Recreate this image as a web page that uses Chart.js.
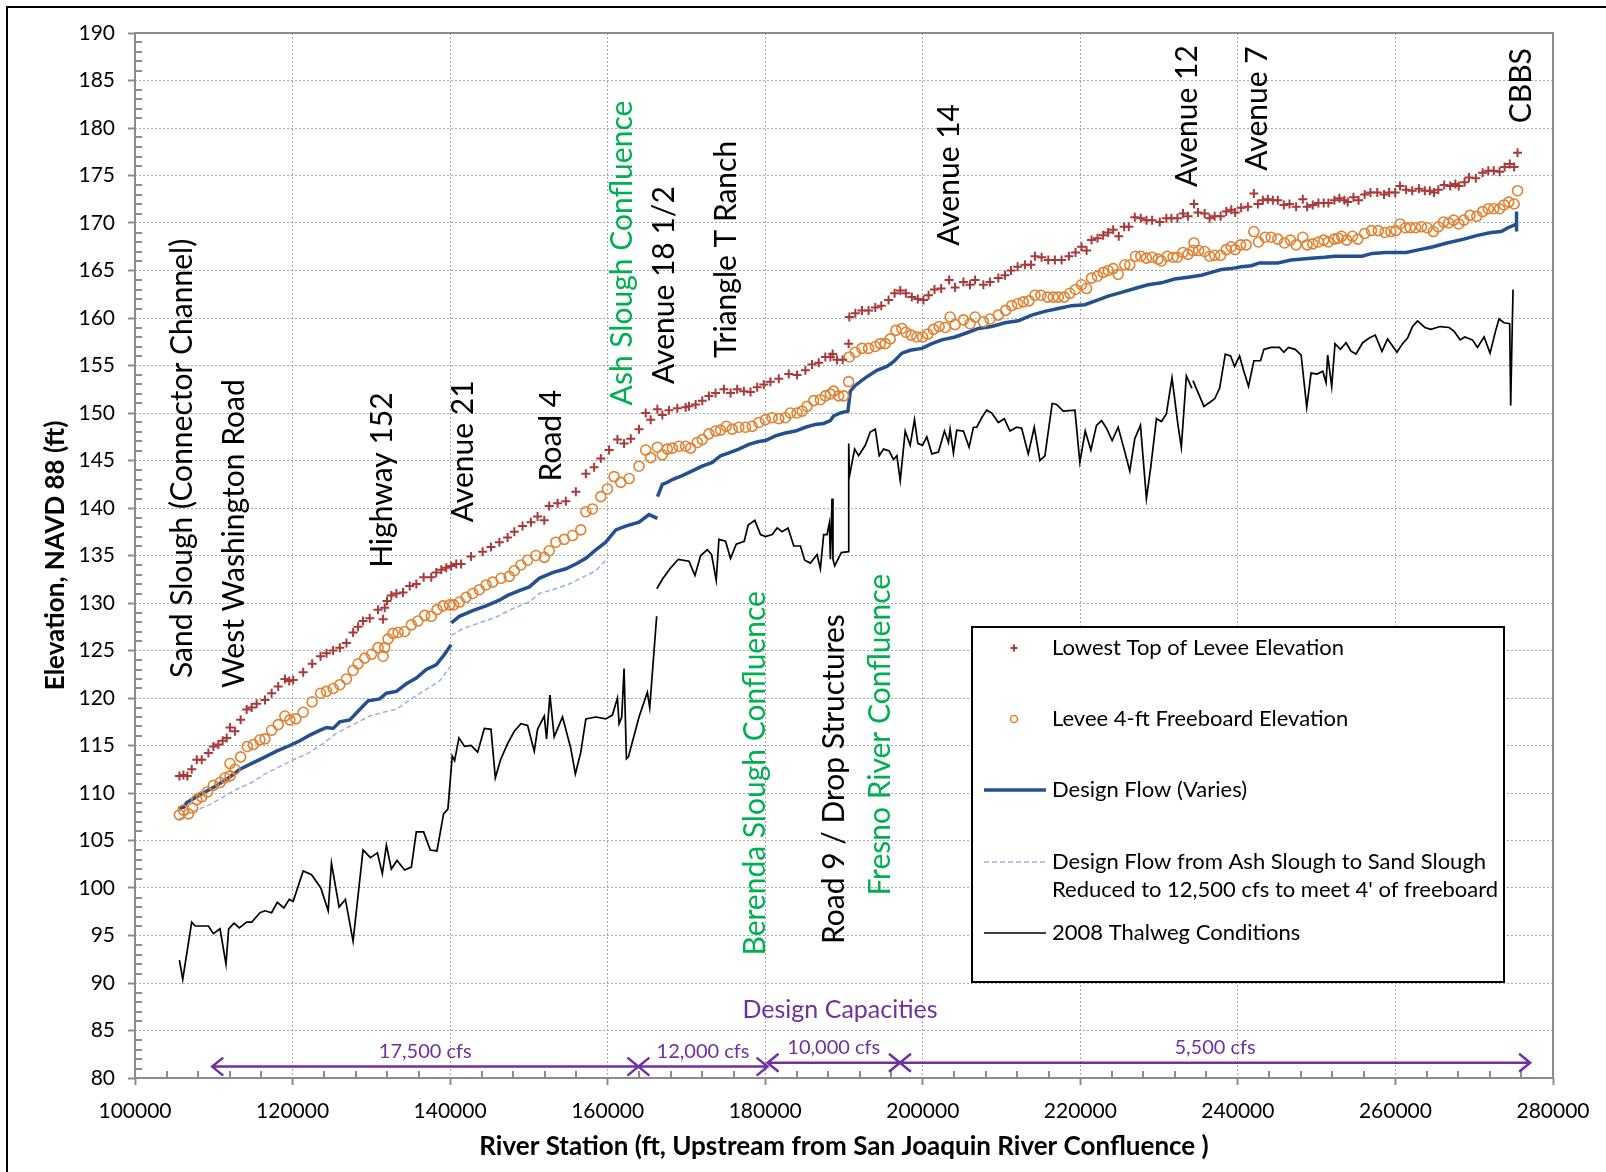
<!DOCTYPE html>
<html><head><meta charset="utf-8">
<script src="https://cdn.jsdelivr.net/npm/chart.js@4.4.0/dist/chart.umd.min.js"></script>
<style>html,body{margin:0;padding:0;background:#fff}#wrap{position:relative;width:1606px;height:1172px}</style>
</head><body><div id="wrap"><canvas id="c"></canvas></div>
<script>
// ---------- DATA ----------
const xTickValues = [100000,120000,140000,160000,180000,200000,220000,240000,260000,280000];
const yTickValues = [80,85,90,95,100,105,110,115,120,125,130,135,140,145,150,155,160,165,170,175,180,185,190];

const seriesNames = ['Lowest Top of Levee Elevation','Levee 4-ft Freeboard Elevation','Design Flow (Varies)','Design Flow from Ash Slough to Sand Slough\nReduced to 12,500 cfs to meet 4\' of freeboard','2008 Thalweg Conditions'];

const levStation = [105640,106150,106650,107200,107840,108470,109320,109950,110580,111130,111640,112060,112690,113410,114170,114810,115440,116500,117340,118180,119030,119580,120080,121350,122490,123550,124310,125150,126000,126840,127690,128320,128950,129800,130850,131490,131700,131990,132540,133180,134020,134870,135710,136640,137610,138240,138880,139510,140140,140780,141390,142660,144130,145190,146250,147300,148150,149200,150260,151100,151950,152580,153640,154690,155960,157230,158280,159130,160180,161240,162080,162930,163980,164830,165460,166310,166940,167780,168840,169900,170320,171160,172010,172850,173700,174750,175600,176440,177290,178130,178980,179820,180660,181720,182990,184040,185100,185940,186790,187630,188270,188560,189110,189830,190590,190680,191440,192280,193120,193970,194730,195660,196420,197140,197850,198610,199370,200090,200730,201490,202330,203340,204100,205160,206000,206640,207690,208540,209590,210440,211200,212040,212970,213730,214240,215080,215930,216770,217620,218550,219390,220150,220790,221420,222180,222900,223530,224170,224880,225560,226150,226910,227670,228390,229110,230080,230920,231560,232320,233030,233670,234430,234930,235780,236410,237050,237810,238520,239160,239660,240420,241270,242030,242540,243170,243800,244440,245070,245830,246550,247390,248240,248790,249500,250220,250900,251490,252250,252880,253520,253940,254670,255320,256090,256830,257690,258550,259200,259970,260580,261350,262130,262990,263730,264370,264890,265450,266190,266960,267610,268040,268770,269330,270200,271060,271790,272480,273220,273860,274510,275070,275500];
const levElev = [111.8,111.9,111.8,112.5,113.5,113.5,114.2,114.9,115.1,115.5,115.8,116.9,116.5,117.7,118.8,119.0,119.4,119.8,120.5,121.2,122.0,121.8,121.9,122.7,123.6,124.4,124.7,125.0,125.3,125.8,126.9,127.5,128.1,128.4,129.3,128.3,129.5,130.2,130.8,131.0,131.1,131.8,132.0,132.7,132.7,133.2,133.5,133.7,133.9,134.1,134.1,134.9,135.4,135.9,136.4,136.9,137.5,138.1,138.5,139.1,138.7,140.2,140.5,140.7,141.7,143.6,144.3,145.2,146.1,147.2,146.8,147.3,148.3,150.0,149.3,150.4,149.8,150.3,150.5,150.6,150.7,150.9,151.3,151.8,152.1,152.5,152.1,152.5,152.3,152.2,152.7,153.0,153.3,153.6,154.1,154.0,154.5,155.1,155.3,155.9,155.9,156.2,155.6,155.6,157.3,160.1,160.5,160.8,160.8,161.1,161.3,161.9,162.6,162.9,162.6,162.2,162.0,161.9,162.4,163.0,163.1,164.0,163.2,163.8,163.5,164.0,163.5,163.8,164.2,164.5,165.0,165.4,165.6,165.6,166.5,166.4,166.1,166.1,166.1,166.5,166.9,167.5,167.1,168.2,168.4,168.7,169.0,169.3,168.6,169.6,169.6,170.6,170.5,170.3,170.3,170.1,170.5,170.5,170.5,171.0,170.7,172.0,171.1,171.0,170.5,170.7,170.7,171.2,171.4,171.1,171.6,171.7,173.1,172.0,172.4,172.5,172.4,172.4,171.9,172.0,171.7,172.5,171.7,171.9,172.1,172.1,172.1,172.4,172.6,172.4,172.2,172.7,172.4,173.0,173.2,173.2,173.0,173.2,173.2,173.9,173.5,173.4,173.6,173.4,173.4,173.2,173.5,174.0,173.9,174.1,173.9,174.3,174.8,174.7,175.3,175.5,175.5,175.4,175.9,176.2,175.9,177.4];

const fbStation = [105640,106150,106780,107330,107840,108470,109190,109950,110790,111430,112060,112060,112690,113410,114260,115020,115860,116500,117340,118180,119030,119660,120420,121350,122490,123550,124310,125150,126000,126840,127690,128320,129160,130010,130850,131490,131700,132120,132750,133390,134230,135080,135920,136770,137610,138330,139090,139930,140440,141200,142020,142870,143710,144560,145400,146460,147510,148150,148990,149840,150890,151950,152580,153420,154480,155540,156590,157230,158070,159130,159970,160810,161660,162720,163980,164830,165460,166310,166940,167570,168210,169050,169900,170530,171380,172010,172850,173700,174330,175050,175810,176650,177500,178340,179190,180030,180880,181720,182560,183200,184040,184680,185310,186150,187000,187630,188270,188690,189320,189960,190590,190680,191440,192280,193120,193970,194600,195240,195870,196590,197350,197850,198530,199250,199970,200640,201360,202080,202840,203470,204100,205160,206000,206640,207690,208540,209590,210520,211280,212040,212760,213480,214240,215000,215840,216560,217200,217960,218670,219390,220150,220790,221420,222180,222900,223530,224170,224800,225640,226280,227000,227670,228390,229110,229870,230290,231050,231770,232320,233030,233670,234300,234430,235020,235780,236410,237050,237810,238520,239160,239660,240340,241060,242030,242620,243460,244220,245070,245910,246670,247390,248240,248790,249500,250220,250900,251490,252250,252730,253160,253810,254540,255230,256090,256960,257820,258680,259410,260060,260580,261270,261880,262560,263300,264030,264810,265450,266100,266750,267390,268040,268690,269460,270330,271060,271790,272480,273220,273780,274380,275070,275500];
const fbElev = [107.7,108.2,107.8,108.4,109.3,109.6,110.1,110.8,111.1,111.6,111.8,113.1,112.5,113.8,114.9,115.1,115.6,115.7,116.6,117.2,118.1,117.7,117.8,118.5,119.6,120.5,120.7,121.0,121.4,122.0,122.9,123.6,124.2,124.6,125.3,124.4,125.3,126.2,126.8,126.9,127.0,127.7,128.1,128.7,128.6,129.3,129.7,129.8,129.8,130.1,130.6,131.0,131.4,131.9,132.2,132.6,132.8,133.4,134.0,134.5,135.0,134.8,135.5,136.4,136.7,137.1,137.7,139.6,139.9,141.2,142.0,143.3,142.7,143.1,144.4,146.1,145.3,146.4,145.6,146.2,146.3,146.5,146.5,146.3,146.9,147.2,147.8,148.1,148.2,148.6,148.3,148.5,148.5,148.6,149.0,149.3,149.5,149.4,149.5,150.0,150.0,150.2,150.7,151.3,151.4,151.8,152.0,152.3,151.8,151.8,153.3,155.9,156.4,156.8,156.8,157.0,157.3,157.3,157.8,158.7,158.9,158.5,158.2,158.0,158.0,158.3,158.8,159.1,159.0,160.1,159.3,159.8,159.4,160.1,159.6,159.9,160.3,160.8,161.3,161.5,161.7,161.8,162.4,162.4,162.2,162.2,162.2,162.2,162.6,163.0,163.5,163.1,164.2,164.4,164.8,165.0,165.2,164.6,165.6,165.6,166.5,166.5,166.3,166.4,166.2,166.0,166.5,166.4,166.4,166.9,166.7,167.1,167.9,167.1,167.0,166.5,166.6,166.6,167.2,167.5,167.2,167.7,167.7,169.1,168.0,168.5,168.5,168.3,167.9,168.2,167.7,168.5,167.7,167.8,168.0,168.2,168.0,168.3,168.4,168.6,168.2,168.6,168.3,168.9,169.2,169.2,169.0,169.1,169.2,169.9,169.5,169.5,169.5,169.6,169.5,169.1,169.6,170.1,170.0,170.3,169.9,170.3,170.8,170.7,171.2,171.5,171.5,171.5,171.9,172.2,172.0,173.4];

const dfStation = [105500,106200,106570,107630,108890,110370,112060,113330,115020,116280,117970,119660,120930,122200,123460,124310,125150,126000,127260,128320,129590,131060,131910,133180,134440,135710,136980,138240,139300,140130,140140,140150,141180,142870,144560,146250,147300,148780,150050,151310,153000,154690,155960,157230,158490,159760,161030,162290,163980,165250,166310,166320,166330,166940,167570,168210,169470,170740,172010,173280,174330,175390,176650,177920,179190,180030,181300,182560,183830,185100,186370,187420,188270,188690,189530,190500,190800,191430,192700,194180,195450,196290,197350,198400,199880,201150,202420,204100,205790,207060,208750,210440,212130,213820,215510,217200,218890,220570,222260,223530,225220,226910,228600,230290,231980,233670,235360,236620,237890,239160,240420,241690,242750,245070,246760,249290,250980,252250,253590,255750,257040,258770,261350,263080,264810,266530,268690,270410,272140,273430,274290,275160,275370,275370,275370];
const dfElev = [108.4,108.5,109.0,109.5,110.1,110.8,111.7,112.5,113.2,113.7,114.4,115.0,115.5,116.1,116.6,116.9,116.8,117.5,117.7,118.6,119.7,119.9,120.5,120.7,121.5,122.1,123.0,123.5,124.6,125.6,null,127.9,128.6,129.2,129.7,130.3,130.8,131.3,131.7,132.6,133.2,133.6,134.1,134.7,135.6,136.4,137.7,138.1,138.5,139.3,138.9,null,141.2,142.5,142.7,143.0,143.4,143.9,144.4,144.8,145.5,145.8,146.2,146.7,147.0,147.1,147.6,147.9,148.1,148.5,148.8,148.9,149.2,149.7,150.0,150.2,152.3,152.9,153.7,154.5,154.9,155.4,156.3,156.6,156.8,157.3,157.7,158.0,158.5,158.9,159.1,159.5,159.7,160.3,160.7,161.0,161.3,161.4,161.9,162.3,162.7,163.1,163.5,163.7,164.1,164.3,164.5,164.8,165.1,165.2,165.4,165.5,165.8,165.8,166.1,166.3,166.4,166.5,166.5,166.5,166.8,166.9,166.9,167.2,167.5,167.9,168.3,168.7,169.0,169.1,169.5,169.8,170.0,171.2,169.1];

const rfStation = [105500,107420,109320,111220,112910,114590,116710,118400,120080,121770,123890,125570,127690,129800,131490,133180,134870,136980,138670,139930,140130,140140,140150,141600,143710,145820,147930,150050,151310,153420,155110,156800,158490,159760];
const rfElev = [107.2,108.1,108.7,109.6,110.4,111.0,112.1,112.8,113.5,114.1,115.2,116.3,117.2,118.1,118.5,118.8,119.8,120.9,121.8,123.2,123.4,null,126.6,127.3,127.9,128.5,129.4,130.1,131.0,131.5,132.0,132.7,133.4,134.5];

const thStation = [105640,106060,107200,107630,109320,109950,110790,111550,111890,112570,113240,114170,114810,115860,116500,117340,118060,118900,119580,120080,121350,122410,123590,124520,124940,125910,126710,127680,128950,129880,130770,131400,131910,132540,133260,134230,135080,135710,136640,137480,138330,139170,139720,140270,140570,141120,141830,142660,143500,144340,145190,145740,146400,147300,148150,148990,149840,150680,151100,151950,152240,152670,153210,154270,155320,155900,156590,157230,158490,159760,160600,161240,161450,161790,162080,162380,162630,163980,165040,165340,166220,166230,166240,166940,168000,168970,170320,171080,171800,172640,173190,173780,174120,174960,175600,176320,177330,177840,178680,179400,180030,180880,181510,182140,182900,183620,184470,185010,185730,186580,187000,187420,187840,188140,188270,188480,188600,188820,189660,190590,190600,190680,191350,191860,192700,193330,193970,194470,195020,195740,196290,196710,197140,197770,198400,198950,199370,199970,200510,201150,201990,202750,203260,203470,203890,204310,205160,205880,206430,206850,207480,208110,208750,209590,210350,211070,211910,212550,213390,214150,214870,215500,216430,216980,217830,219310,219940,220620,221340,222050,222690,223320,224040,224800,225520,226280,226910,227630,228390,228940,229660,230290,230920,231640,232400,232820,233460,234170,234200,234300,235690,236410,237050,237680,238400,239070,239580,240210,240720,241350,242030,242870,243300,244220,245280,245830,246420,247270,248030,248740,249290,250050,250770,251190,251400,251910,252330,253010,253730,254360,254990,255840,256680,257440,258290,259000,260190,260900,261540,262170,262810,263730,264490,265680,266820,267450,268210,268800,269770,270410,271250,272010,272730,273150,273790,274500,274630,274840,274930];
const thElev = [92.4,90.4,96.4,96.0,96.0,95.2,95.7,92.0,95.7,96.3,95.8,96.4,96.4,97.4,97.6,97.4,98.5,97.9,98.8,98.6,101.8,101.4,100.0,97.6,102.6,98.0,98.8,94.4,104.0,103.2,103.7,101.5,104.5,102.0,102.9,101.9,102.2,105.9,105.9,104.0,103.9,107.8,108.3,113.9,113.4,115.8,114.9,115.0,114.3,116.8,116.7,111.6,113.5,115.2,116.5,117.3,117.1,114.4,116.7,118.1,115.7,120.3,115.9,118.0,114.7,112.0,114.3,117.8,118.0,117.8,118.2,120.0,117.3,118.0,123.1,113.6,113.8,118.0,120.6,119.0,128.6,null,131.5,132.5,133.7,134.6,134.4,132.9,135.0,135.6,135.1,132.4,136.7,136.5,134.7,136.2,136.5,138.2,138.7,137.2,137.0,137.2,137.9,137.5,137.9,136.0,136.0,134.5,134.2,135.1,133.6,137.2,137.2,138.4,134.6,141.0,134.6,133.9,135.3,135.4,146.8,143.3,146.2,145.5,146.6,148.0,148.3,145.5,146.2,146.0,145.1,145.5,142.9,148.1,146.6,149.3,146.8,146.6,147.5,145.7,145.9,148.1,146.9,148.3,145.8,148.2,148.1,146.4,148.5,148.5,149.5,150.3,150.0,149.0,149.4,148.1,148.5,148.4,145.7,148.5,145.0,145.5,151.0,150.9,150.2,150.3,144.8,148.1,146.1,148.7,149.2,148.4,147.1,148.5,146.3,143.9,147.3,148.7,141.0,144.3,149.4,149.1,149.9,153.7,148.7,146.4,153.9,152.6,null,153.4,150.7,151.1,151.5,152.6,156.2,156.0,154.9,156.0,154.5,152.8,155.5,155.5,156.7,156.9,156.9,156.4,156.9,156.7,156.1,150.6,154.2,154.1,154.4,153.2,156.1,152.8,157.3,156.7,157.4,156.5,156.2,157.4,157.9,158.2,156.5,157.8,156.4,157.3,157.9,159.1,159.7,159.0,158.8,159.1,159.0,158.6,157.7,158.0,157.7,156.9,158.0,156.3,158.7,159.9,159.5,159.4,150.8,159.6,163.0];

// Location annotations (text, river station of the label, elevation where the text starts)
const locName = ['Sand Slough (Connector Channel)','West Washington Road','Highway 152','Avenue 21','Road 4','Ash Slough Confluence','Avenue 18 1/2','Triangle T Ranch','Berenda Slough Confluence','Road 9 / Drop Structures','Fresno River Confluence','Avenue 14','Avenue 12','Avenue 7','CBBS'];
const locStation = [105960,112560,131340,141620,152790,161800,167130,175120,178800,188820,194650,203400,233590,242470,275970];
const locElev = [122.1,121.05,133.7,138.5,142.8,150.8,153.05,155.8,92.9,94.1,99.2,167.6,173.8,175.5,180.5];
const locKind = ['road','road','road','road','road','confluence','road','road','confluence','road','confluence','road','road','road','road'];

// Design capacities
const capTitle = 'Design Capacities';
const capLabel = ['17,500 cfs','12,000 cfs','10,000 cfs','5,500 cfs'];
const capStart = [109800,163900,180300,197100];
const capEnd   = [163900,180300,197100,277100];
const capLevel = [81.2,81.2,81.6,81.6];

// ---------- DRAWING ----------
const C_LEV = '#A83A3A', C_FB = '#E2812F', C_DF = '#24508F', C_RF = '#95B3DE', C_TH = '#000000';
const GREEN = '#00B050', PURPLE = '#7030A0';
const FONT = 'Lato, "Open Sans", sans-serif';

function pts(xs, ys){ return xs.map((x,i)=>({x:x, y:ys[i]})); }

const deco = {
  id: 'deco',
  beforeDatasetsDraw(chart) {
    const {ctx, chartArea: a, scales: {x, y}} = chart;
    ctx.save();
    ctx.strokeStyle = '#8c8c8c'; ctx.lineWidth = 2;
    ctx.beginPath();
    for (let v = 81; v < 190; v++) {
      if (v % 5 === 0) continue;
      const py = Math.round(y.getPixelForValue(v));
      ctx.moveTo(a.left, py); ctx.lineTo(a.left + 7, py);
    }
    for (let s = 104000; s < 280000; s += 4000) {
      if (s % 20000 === 0) continue;
      const px = Math.round(x.getPixelForValue(s));
      ctx.moveTo(px, a.bottom); ctx.lineTo(px, a.bottom - 7);
    }
    ctx.stroke();
    ctx.strokeRect(a.left, a.top, a.right - a.left, a.bottom - a.top);
    ctx.restore();
  },
  afterDatasetsDraw(chart) {
    const {ctx, scales: {x, y}} = chart;
    ctx.save();
    ctx.font = '30px ' + FONT;
    ctx.textAlign = 'left'; ctx.textBaseline = 'middle';
    locName.forEach((n, i) => {
      const px = x.getPixelForValue(locStation[i]);
      const py = y.getPixelForValue(locElev[i]);
      ctx.save();
      ctx.translate(px, py); ctx.rotate(-Math.PI / 2);
      ctx.fillStyle = locKind[i] === 'confluence' ? GREEN : '#000';
      ctx.fillText(n, 0, 0);
      ctx.restore();
    });
    ctx.strokeStyle = PURPLE; ctx.fillStyle = PURPLE; ctx.lineWidth = 2.5;
    ctx.textAlign = 'center';
    ctx.font = '20px ' + FONT;
    capLabel.forEach((lab, i) => {
      const x1 = x.getPixelForValue(capStart[i]), x2 = x.getPixelForValue(capEnd[i]);
      const yy = y.getPixelForValue(capLevel[i]);
      ctx.beginPath();
      ctx.moveTo(x1, yy); ctx.lineTo(x2, yy);
      ctx.moveTo(x1 + 11, yy - 9); ctx.lineTo(x1, yy); ctx.lineTo(x1 + 11, yy + 9);
      ctx.moveTo(x2 - 11, yy - 9); ctx.lineTo(x2, yy); ctx.lineTo(x2 - 11, yy + 9);
      ctx.stroke();
      ctx.fillText(lab, (x1 + x2) / 2, yy - 15);
    });
    ctx.font = '25px ' + FONT;
    ctx.fillText(capTitle, x.getPixelForValue(189500), y.getPixelForValue(87.2));
    ctx.restore();
  },
  afterDraw(chart) {
    const {ctx, chartArea: a} = chart;
    const ds = chart.data.datasets;
    ctx.save();
    const bx = 972, by = 627, bw = 532, bh = 355;
    ctx.fillStyle = '#fff'; ctx.fillRect(bx, by, bw, bh);
    ctx.strokeStyle = '#000'; ctx.lineWidth = 2; ctx.strokeRect(bx, by, bw, bh);
    const rows = [648, 719, 790, 862, 933];
    ctx.font = '22px ' + FONT; ctx.textAlign = 'left'; ctx.textBaseline = 'middle';
    ds.forEach((d, i) => {
      const ry = rows[i];
      ctx.save();
      if (d.pointStyle === 'cross') {
        ctx.strokeStyle = d.borderColor; ctx.lineWidth = 2;
        ctx.beginPath(); ctx.moveTo(1014 - 3.5, ry); ctx.lineTo(1014 + 3.5, ry); ctx.moveTo(1014, ry - 3.5); ctx.lineTo(1014, ry + 3.5); ctx.stroke();
      } else if (!d.showLine) {
        ctx.strokeStyle = d.borderColor; ctx.lineWidth = 1.6;
        ctx.beginPath(); ctx.arc(1014, ry, 3.5, 0, Math.PI * 2); ctx.stroke();
      } else {
        ctx.strokeStyle = d.borderColor; ctx.lineWidth = d.borderWidth;
        ctx.setLineDash(d.borderDash || []);
        ctx.beginPath(); ctx.moveTo(984, ry); ctx.lineTo(1046, ry); ctx.stroke();
      }
      ctx.restore();
      ctx.fillStyle = '#000';
      d.label.split('\n').forEach((t, k) => ctx.fillText(t, 1052, ry + k * 28));
    });
    ctx.fillStyle = '#000';
    ctx.font = 'bold 26px ' + FONT; ctx.textAlign = 'center'; ctx.textBaseline = 'middle';
    ctx.fillText('River Station (ft, Upstream from San Joaquin River Confluence )', (a.left + a.right) / 2, 1147);
    ctx.save();
    ctx.translate(56, (a.top + a.bottom) / 2); ctx.rotate(-Math.PI / 2);
    ctx.fillText('Elevation, NAVD 88 (ft)', 0, 0);
    ctx.restore();
    ctx.strokeStyle = '#000'; ctx.lineWidth = 2;
    ctx.strokeRect(7, 7, 1700, 1400);
    ctx.restore();
  }
};

function build() {
  new Chart(document.getElementById('c'), {
    type: 'scatter',
    data: {
      datasets: [
        { label: seriesNames[0], data: pts(levStation, levElev), pointStyle: 'cross', pointRadius: 4.5, pointBorderWidth: 2, borderColor: C_LEV, backgroundColor: C_LEV, showLine: false },
        { label: seriesNames[1], data: pts(fbStation, fbElev), pointStyle: 'circle', pointRadius: 5, pointBorderWidth: 1.6, borderColor: C_FB, backgroundColor: 'rgba(255,255,255,0)', showLine: false },
        { label: seriesNames[2], data: pts(dfStation, dfElev), showLine: true, pointRadius: 0, borderColor: C_DF, borderWidth: 3.5, spanGaps: false, tension: 0 },
        { label: seriesNames[3], data: pts(rfStation, rfElev), showLine: true, pointRadius: 0, borderColor: C_RF, borderWidth: 1.5, borderDash: [5, 3], spanGaps: false, tension: 0 },
        { label: seriesNames[4], data: pts(thStation, thElev), showLine: true, pointRadius: 0, borderColor: C_TH, borderWidth: 1.7, spanGaps: false, tension: 0 }
      ]
    },
    options: {
      responsive: true, maintainAspectRatio: false, animation: false,
      layout: { padding: { left: 0, top: 33, right: 53, bottom: 0 } },
      plugins: { legend: { display: false }, tooltip: { enabled: false } },
      scales: {
        x: {
          type: 'linear', min: 100000, max: 280000,
          afterBuildTicks: s => { s.ticks = xTickValues.map(v => ({ value: v })); },
          afterFit: s => { s.height = 94; },
          ticks: { autoSkip: false, maxRotation: 0, padding: 14, color: '#000', font: { family: FONT, size: 21 }, callback: v => String(v) },
          grid: { color: '#a6a6a6', lineWidth: 1, tickLength: 7, tickColor: '#8c8c8c', tickWidth: 2 },
          border: { display: false, dash: [2, 2] }
        },
        y: {
          type: 'linear', min: 80, max: 190,
          afterBuildTicks: s => { s.ticks = yTickValues.map(v => ({ value: v })); },
          afterFit: s => { s.width = 135; },
          ticks: { autoSkip: false, padding: 13, color: '#000', font: { family: FONT, size: 21 }, callback: v => String(v) },
          grid: { color: '#a6a6a6', lineWidth: 1, tickLength: 7, tickColor: '#8c8c8c', tickWidth: 2 },
          border: { display: false, dash: [2, 2] }
        }
      }
    },
    plugins: [deco]
  });
}
Promise.all([document.fonts.load('21px Lato'), document.fonts.load('bold 26px Lato'), document.fonts.load('30px Lato')]).catch(() => {}).then(build);
</script></body></html>
